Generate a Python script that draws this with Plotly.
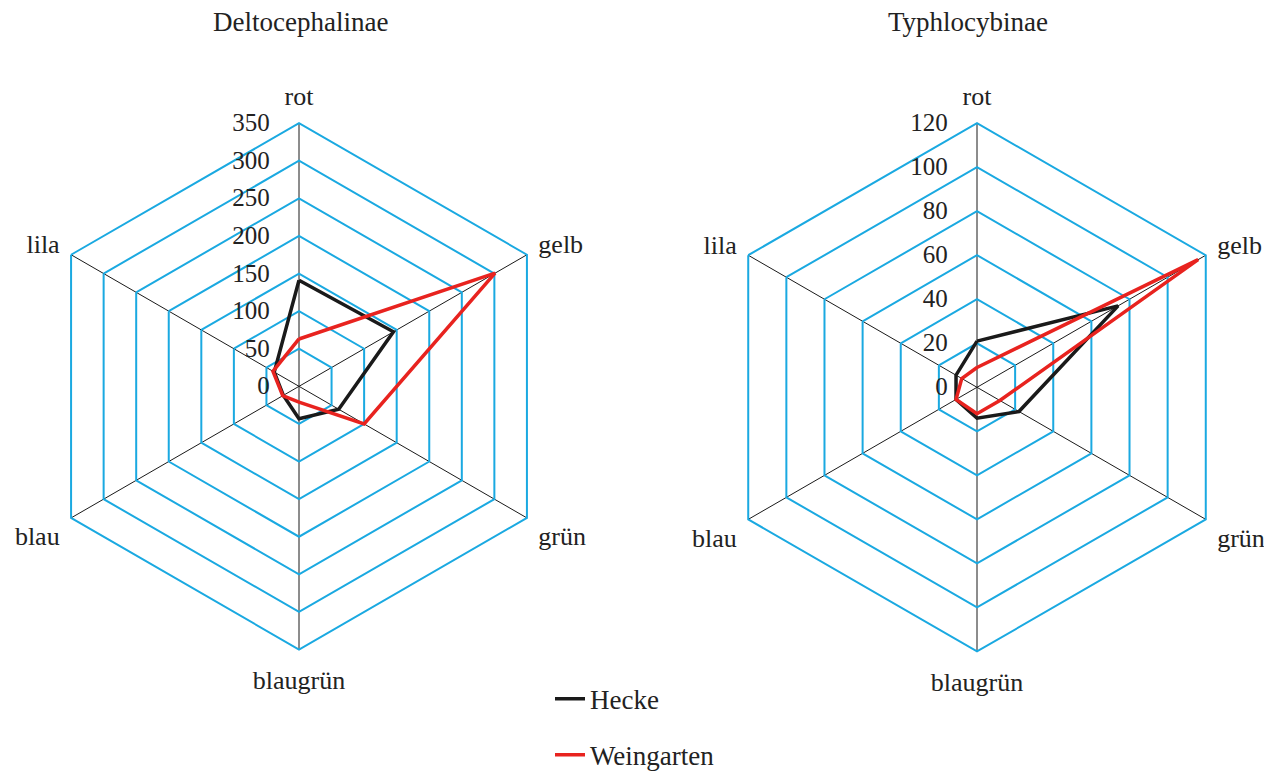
import plotly.graph_objects as go

categories = ["rot", "gelb", "grün", "blaugrün", "blau", "lila"]

delto_hecke = [141, 145, 61, 43, 24, 38]
delto_weingarten = [63, 301, 100, 21, 25, 40]

typhlo_hecke = [21, 74, 22, 14, 11, 11]
typhlo_weingarten = [9, 116, 12, 12, 11, 8]

titles = ["Deltocephalinae", "Typhlocybinae"]
delto_ticks = [0, 50, 100, 150, 200, 250, 300, 350]
typhlo_ticks = [0, 20, 40, 60, 80, 100, 120]

BLACK = "#1a1a1a"
RED = "#e8231f"
BLUE = "#1aa9e1"
FONT = "Liberation Serif"
TXT = "#222"
FS = 27

W, H = 1272, 772


def closed(v):
    return list(v) + [v[0]]


cats = closed(categories)

fig = go.Figure()

fig.add_trace(go.Scatterpolar(r=closed(delto_hecke), theta=cats, mode="lines",
                              line=dict(color=BLACK, width=3.5), name="Hecke",
                              subplot="polar", legendgroup="a"))
fig.add_trace(go.Scatterpolar(r=closed(delto_weingarten), theta=cats, mode="lines",
                              line=dict(color=RED, width=3.5), name="Weingarten",
                              subplot="polar", legendgroup="b"))
fig.add_trace(go.Scatterpolar(r=closed(typhlo_hecke), theta=cats, mode="lines",
                              line=dict(color=BLACK, width=3.5), name="Hecke",
                              subplot="polar2", showlegend=False))
fig.add_trace(go.Scatterpolar(r=closed(typhlo_weingarten), theta=cats, mode="lines",
                              line=dict(color=RED, width=3.5), name="Weingarten",
                              subplot="polar2", showlegend=False))


def dom(cx, cy, r):
    return dict(x=[(cx - r) / W, (cx + r) / W], y=[1 - (cy + r) / H, 1 - (cy - r) / H])


def polar_layout(cx, cy, r, ticks):
    return dict(
        domain=dom(cx, cy, r),
        gridshape="linear",
        bgcolor="white",
        radialaxis=dict(
            range=[ticks[0], ticks[-1]],
            tickvals=ticks,
            angle=90,
            tickangle=90,
            side="counterclockwise",
            showline=False,
            ticks="outside",
            ticklen=20,
            tickcolor="rgba(0,0,0,0)",
            gridcolor=BLUE,
            gridwidth=1.8,
            tickfont=dict(family=FONT, size=25, color=TXT),
        ),
        angularaxis=dict(
            rotation=90,
            direction="clockwise",
            showline=True,
            linecolor=BLUE,
            linewidth=2,
            gridcolor=BLACK,
            gridwidth=1.2,
            ticks="outside",
            ticklen=7,
            tickcolor="rgba(0,0,0,0)",
            tickfont=dict(family=FONT, size=26, color=TXT),
        ),
    )


fig.update_layout(
    width=W, height=H,
    margin=dict(l=0, r=0, t=0, b=0),
    paper_bgcolor="white",
    plot_bgcolor="white",
    polar=polar_layout(291, 391, 272, delto_ticks),
    polar2=polar_layout(969, 392, 273, typhlo_ticks),
    showlegend=True,
    legend=dict(x=542 / W, y=1 - 689 / H, xanchor="left", yanchor="top",
                font=dict(family=FONT, size=FS, color=TXT),
                tracegroupgap=18, bgcolor="rgba(0,0,0,0)"),
    annotations=[
        dict(text=titles[0], x=292 / W, y=1 - 14 / H, xref="paper", yref="paper",
             xanchor="center", yanchor="middle",
             showarrow=False, font=dict(family=FONT, size=FS, color=TXT)),
        dict(text=titles[1], x=960 / W, y=1 - 14 / H, xref="paper", yref="paper",
             xanchor="center", yanchor="middle",
             showarrow=False, font=dict(family=FONT, size=FS, color=TXT)),
    ],
)

fig.write_html("out.html")
